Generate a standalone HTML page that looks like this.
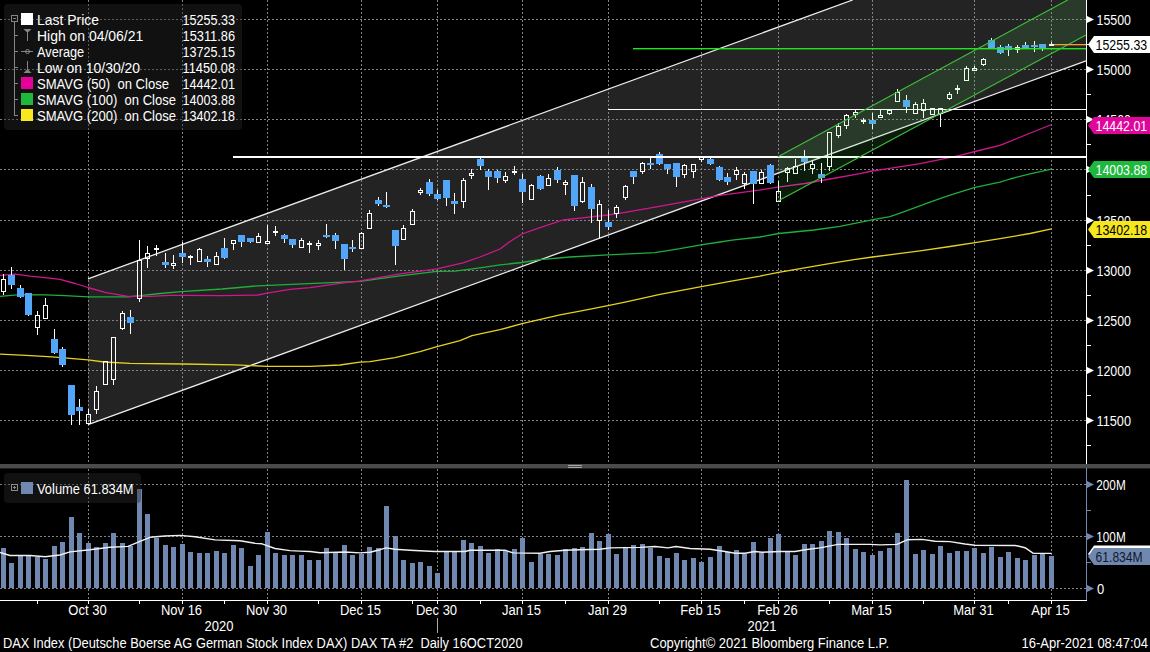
<!DOCTYPE html>
<html><head><meta charset="utf-8"><title>DAX Index</title>
<style>html,body{margin:0;padding:0;background:#000;width:1150px;height:652px;overflow:hidden}svg{display:block}</style>
</head><body>
<svg width="1150" height="652" viewBox="0 0 1150 652">
<rect width="1150" height="652" fill="#000"/>
<polygon points="88,278.8 852.68,0 1086,0 1086,60.85 88,424.72" fill="#232323"/>
<g stroke="#838383" stroke-width="1" stroke-dasharray="2 2" fill="none">
<line x1="0" y1="19.5" x2="1086" y2="19.5"/>
<line x1="0" y1="69.5" x2="1086" y2="69.5"/>
<line x1="0" y1="119.5" x2="1086" y2="119.5"/>
<line x1="0" y1="169.5" x2="1086" y2="169.5"/>
<line x1="0" y1="220.5" x2="1086" y2="220.5"/>
<line x1="0" y1="270.5" x2="1086" y2="270.5"/>
<line x1="0" y1="320.5" x2="1086" y2="320.5"/>
<line x1="0" y1="370.5" x2="1086" y2="370.5"/>
<line x1="0" y1="420.5" x2="1086" y2="420.5"/>
<line x1="88.5" y1="0" x2="88.5" y2="464"/>
<line x1="182.5" y1="0" x2="182.5" y2="464"/>
<line x1="267.5" y1="0" x2="267.5" y2="464"/>
<line x1="361.5" y1="0" x2="361.5" y2="464"/>
<line x1="437.5" y1="0" x2="437.5" y2="464"/>
<line x1="522.5" y1="0" x2="522.5" y2="464"/>
<line x1="608.5" y1="0" x2="608.5" y2="464"/>
<line x1="701.5" y1="0" x2="701.5" y2="464"/>
<line x1="778.5" y1="0" x2="778.5" y2="464"/>
<line x1="872.5" y1="0" x2="872.5" y2="464"/>
<line x1="974.5" y1="0" x2="974.5" y2="464"/>
<line x1="1051.5" y1="0" x2="1051.5" y2="464"/>
<line x1="0" y1="484.5" x2="1086" y2="484.5"/>
<line x1="0" y1="536.5" x2="1086" y2="536.5"/>
<line x1="0" y1="588.5" x2="1086" y2="588.5"/>
<line x1="88.5" y1="469" x2="88.5" y2="600"/>
<line x1="182.5" y1="469" x2="182.5" y2="600"/>
<line x1="267.5" y1="469" x2="267.5" y2="600"/>
<line x1="361.5" y1="469" x2="361.5" y2="600"/>
<line x1="437.5" y1="469" x2="437.5" y2="600"/>
<line x1="522.5" y1="469" x2="522.5" y2="600"/>
<line x1="608.5" y1="469" x2="608.5" y2="600"/>
<line x1="701.5" y1="469" x2="701.5" y2="600"/>
<line x1="778.5" y1="469" x2="778.5" y2="600"/>
<line x1="872.5" y1="469" x2="872.5" y2="600"/>
<line x1="974.5" y1="469" x2="974.5" y2="600"/>
<line x1="1051.5" y1="469" x2="1051.5" y2="600"/>
</g>
<g stroke="#ececec" stroke-width="1.3" fill="none">
<line x1="88" y1="278.8" x2="852.68" y2="0"/>
<line x1="88" y1="424.72" x2="1086" y2="60.85"/>
</g>
<polyline points="0,354.1 26,355.3 52,356.8 70,358.3 88,359.9 104,362 130,363.3 183,364 235,364.8 267,366.4 310,366.4 340,365 360,362.2 370,361.6 395,357.6 420,351.7 437,346.7 460,340.7 472,335.7 500,329.7 522,323.7 560,314.8 580,311.1 608,305.7 625,302.2 660,294.3 680,290.6 700,286.9 730,281.3 760,276.1 778.6,272.3 801.7,268.3 827.8,263.9 853.9,259.6 872.5,257 920,250.9 950,246.5 975,242.7 1000,238.7 1030,233.5 1051.5,228.8" fill="none" stroke="#e6d21e" stroke-width="1.3" stroke-linejoin="round"/>
<polyline points="0,296.3 20,294.6 45,294.9 65,295.7 88,296.8 128,296.8 140,295.6 160,293.5 181,291.6 222,289 258,285.8 303,283.8 360,281.3 400,275.9 437,271.3 455,271.1 480,267.9 500,264.9 522,262.5 540,259.6 570,257 608,254.9 655,252.6 680,248.7 701,244.8 720,242 732,240.1 760,237 778.6,233.5 814,230 840,226.3 872,219.9 890,216.6 905,211.4 930,202.2 950,195.2 975,187.4 1000,182.2 1010,179 1030,173.8 1051.5,169.2" fill="none" stroke="#1fae3c" stroke-width="1.3" stroke-linejoin="round"/>
<polyline points="0,275.3 15,274.2 30,276.1 45,277.6 60,279.3 75,283.5 88,287.5 105,292.3 128,296.3 150,296.3 170,295.3 183,295.3 220,295.7 258,295 267,293.1 290,289.4 310,287.6 340,283.4 360,280.8 400,273.9 437,268.9 463,262.9 480,257 500,249 510,241.5 522,234 540,227.6 563,220 580,218.2 608,215 625,212.4 655,207.2 702,198.6 720,195.3 759,190.1 778,187.1 805,183.5 830,179 860,173.7 872,171 880,169.8 920,163.7 947,158.1 960,155.4 975,151.5 1000,145.4 1051.5,124.5" fill="none" stroke="#d0168f" stroke-width="1.3" stroke-linejoin="round"/>
<g shape-rendering="crispEdges">
<rect x="3" y="274" width="1" height="5" fill="#fff"/>
<rect x="3" y="292" width="1" height="3" fill="#fff"/>
<rect x="1.5" y="279.5" width="4" height="12" fill="none" stroke="#fff" stroke-width="1"/>
<rect x="11" y="267" width="1" height="22" fill="#fff"/>
<rect x="8" y="275" width="7" height="10" fill="#52a6fa"/>
<rect x="20" y="285" width="1" height="13" fill="#fff"/>
<rect x="17" y="288" width="7" height="9" fill="#52a6fa"/>
<rect x="28" y="293" width="1" height="23" fill="#fff"/>
<rect x="25" y="293" width="7" height="22" fill="#52a6fa"/>
<rect x="37" y="311" width="1" height="4" fill="#fff"/>
<rect x="37" y="328" width="1" height="7" fill="#fff"/>
<rect x="35.5" y="315.5" width="4" height="12" fill="none" stroke="#fff" stroke-width="1"/>
<rect x="45" y="298" width="1" height="7" fill="#fff"/>
<rect x="43.5" y="305.5" width="4" height="13" fill="none" stroke="#fff" stroke-width="1"/>
<rect x="54" y="329" width="1" height="25" fill="#fff"/>
<rect x="51" y="339" width="7" height="14" fill="#52a6fa"/>
<rect x="62" y="347" width="1" height="20" fill="#fff"/>
<rect x="59" y="349" width="7" height="16" fill="#52a6fa"/>
<rect x="71" y="385" width="1" height="40" fill="#fff"/>
<rect x="68" y="385" width="7" height="30" fill="#52a6fa"/>
<rect x="79" y="399" width="1" height="26" fill="#fff"/>
<rect x="76" y="407" width="7" height="4" fill="#52a6fa"/>
<rect x="88" y="409" width="1" height="5" fill="#fff"/>
<rect x="86.5" y="414.5" width="4" height="9" fill="none" stroke="#fff" stroke-width="1"/>
<rect x="96" y="386" width="1" height="5" fill="#fff"/>
<rect x="96" y="410" width="1" height="4" fill="#fff"/>
<rect x="94.5" y="391.5" width="4" height="18" fill="none" stroke="#fff" stroke-width="1"/>
<rect x="103.5" y="361.5" width="4" height="23" fill="none" stroke="#fff" stroke-width="1"/>
<rect x="113" y="380" width="1" height="5" fill="#fff"/>
<rect x="111.5" y="337.5" width="4" height="42" fill="none" stroke="#fff" stroke-width="1"/>
<rect x="122" y="311" width="1" height="2" fill="#fff"/>
<rect x="122" y="329" width="1" height="1" fill="#fff"/>
<rect x="120.5" y="313.5" width="4" height="15" fill="none" stroke="#fff" stroke-width="1"/>
<rect x="130" y="310" width="1" height="24" fill="#fff"/>
<rect x="127" y="317" width="7" height="6" fill="#52a6fa"/>
<rect x="139" y="240" width="1" height="20" fill="#fff"/>
<rect x="139" y="299" width="1" height="3" fill="#fff"/>
<rect x="137.5" y="260.5" width="4" height="38" fill="none" stroke="#fff" stroke-width="1"/>
<rect x="147" y="246" width="1" height="7" fill="#fff"/>
<rect x="147" y="259" width="1" height="9" fill="#fff"/>
<rect x="145.5" y="253.5" width="4" height="5" fill="none" stroke="#fff" stroke-width="1"/>
<rect x="156" y="245" width="1" height="3" fill="#fff"/>
<rect x="156" y="250" width="1" height="6" fill="#fff"/>
<rect x="154.5" y="248.5" width="4" height="1" fill="none" stroke="#fff" stroke-width="1"/>
<rect x="165" y="253" width="1" height="15" fill="#fff"/>
<rect x="162" y="262" width="7" height="3" fill="#52a6fa"/>
<rect x="173" y="255" width="1" height="8" fill="#fff"/>
<rect x="173" y="266" width="1" height="3" fill="#fff"/>
<rect x="171.5" y="263.5" width="4" height="2" fill="none" stroke="#fff" stroke-width="1"/>
<rect x="182" y="242" width="1" height="21" fill="#fff"/>
<rect x="179" y="253" width="7" height="4" fill="#52a6fa"/>
<rect x="190" y="255" width="1" height="1" fill="#fff"/>
<rect x="190" y="258" width="1" height="7" fill="#fff"/>
<rect x="188.5" y="256.5" width="4" height="1" fill="none" stroke="#fff" stroke-width="1"/>
<rect x="199" y="248" width="1" height="1" fill="#fff"/>
<rect x="197.5" y="249.5" width="4" height="12" fill="none" stroke="#fff" stroke-width="1"/>
<rect x="207" y="256" width="1" height="11" fill="#fff"/>
<rect x="204" y="259" width="7" height="3" fill="#52a6fa"/>
<rect x="216" y="252" width="1" height="4" fill="#fff"/>
<rect x="214.5" y="256.5" width="4" height="8" fill="none" stroke="#fff" stroke-width="1"/>
<rect x="224" y="238" width="1" height="21" fill="#fff"/>
<rect x="221" y="248" width="7" height="10" fill="#52a6fa"/>
<rect x="233" y="244" width="1" height="6" fill="#fff"/>
<rect x="231.5" y="240.5" width="4" height="3" fill="none" stroke="#fff" stroke-width="1"/>
<rect x="241" y="235" width="1" height="12" fill="#fff"/>
<rect x="238" y="235" width="7" height="7" fill="#52a6fa"/>
<rect x="250" y="238" width="1" height="5" fill="#fff"/>
<rect x="247" y="238" width="7" height="4" fill="#52a6fa"/>
<rect x="258" y="233" width="1" height="3" fill="#fff"/>
<rect x="256.5" y="236.5" width="4" height="6" fill="none" stroke="#fff" stroke-width="1"/>
<rect x="267" y="225" width="1" height="16" fill="#fff"/>
<rect x="265.5" y="241.5" width="4" height="2" fill="none" stroke="#fff" stroke-width="1"/>
<rect x="275" y="226" width="1" height="5" fill="#fff"/>
<rect x="275" y="233" width="1" height="3" fill="#fff"/>
<rect x="273.5" y="231.5" width="4" height="1" fill="none" stroke="#fff" stroke-width="1"/>
<rect x="284" y="234" width="1" height="9" fill="#fff"/>
<rect x="281" y="235" width="7" height="4" fill="#52a6fa"/>
<rect x="292" y="239" width="1" height="9" fill="#fff"/>
<rect x="289" y="239" width="7" height="6" fill="#52a6fa"/>
<rect x="301" y="238" width="1" height="2" fill="#fff"/>
<rect x="299.5" y="240.5" width="4" height="7" fill="none" stroke="#fff" stroke-width="1"/>
<rect x="309" y="241" width="1" height="2" fill="#fff"/>
<rect x="309" y="245" width="1" height="8" fill="#fff"/>
<rect x="307.5" y="243.5" width="4" height="1" fill="none" stroke="#fff" stroke-width="1"/>
<rect x="318" y="240" width="1" height="3" fill="#fff"/>
<rect x="318" y="246" width="1" height="4" fill="#fff"/>
<rect x="316.5" y="243.5" width="4" height="2" fill="none" stroke="#fff" stroke-width="1"/>
<rect x="326" y="224" width="1" height="14" fill="#fff"/>
<rect x="323" y="235" width="7" height="2" fill="#52a6fa"/>
<rect x="335" y="233" width="1" height="16" fill="#fff"/>
<rect x="332" y="235" width="7" height="6" fill="#52a6fa"/>
<rect x="344" y="244" width="1" height="26" fill="#fff"/>
<rect x="341" y="244" width="7" height="15" fill="#52a6fa"/>
<rect x="352" y="240" width="1" height="12" fill="#fff"/>
<rect x="349" y="247" width="7" height="2" fill="#52a6fa"/>
<rect x="361" y="232" width="1" height="1" fill="#fff"/>
<rect x="359.5" y="233.5" width="4" height="15" fill="none" stroke="#fff" stroke-width="1"/>
<rect x="369" y="210" width="1" height="3" fill="#fff"/>
<rect x="367.5" y="213.5" width="4" height="15" fill="none" stroke="#fff" stroke-width="1"/>
<rect x="378" y="197" width="1" height="9" fill="#fff"/>
<rect x="375" y="200" width="7" height="4" fill="#52a6fa"/>
<rect x="386" y="192" width="1" height="16" fill="#fff"/>
<rect x="383" y="205" width="7" height="2" fill="#52a6fa"/>
<rect x="395" y="230" width="1" height="35" fill="#fff"/>
<rect x="392" y="230" width="7" height="16" fill="#52a6fa"/>
<rect x="403" y="225" width="1" height="3" fill="#fff"/>
<rect x="401.5" y="228.5" width="4" height="11" fill="none" stroke="#fff" stroke-width="1"/>
<rect x="412" y="209" width="1" height="2" fill="#fff"/>
<rect x="410.5" y="211.5" width="4" height="13" fill="none" stroke="#fff" stroke-width="1"/>
<rect x="420" y="188" width="1" height="2" fill="#fff"/>
<rect x="420" y="193" width="1" height="2" fill="#fff"/>
<rect x="418.5" y="190.5" width="4" height="2" fill="none" stroke="#fff" stroke-width="1"/>
<rect x="429" y="179" width="1" height="17" fill="#fff"/>
<rect x="426" y="182" width="7" height="12" fill="#52a6fa"/>
<rect x="437" y="190" width="1" height="10" fill="#fff"/>
<rect x="434" y="194" width="7" height="5" fill="#52a6fa"/>
<rect x="446" y="180" width="1" height="26" fill="#fff"/>
<rect x="443" y="180" width="7" height="18" fill="#52a6fa"/>
<rect x="454" y="193" width="1" height="21" fill="#fff"/>
<rect x="451" y="201" width="7" height="3" fill="#52a6fa"/>
<rect x="463" y="178" width="1" height="2" fill="#fff"/>
<rect x="463" y="202" width="1" height="6" fill="#fff"/>
<rect x="461.5" y="180.5" width="4" height="21" fill="none" stroke="#fff" stroke-width="1"/>
<rect x="471" y="169" width="1" height="4" fill="#fff"/>
<rect x="471" y="176" width="1" height="3" fill="#fff"/>
<rect x="469.5" y="173.5" width="4" height="2" fill="none" stroke="#fff" stroke-width="1"/>
<rect x="480" y="158" width="1" height="12" fill="#fff"/>
<rect x="477" y="159" width="7" height="7" fill="#52a6fa"/>
<rect x="488" y="169" width="1" height="21" fill="#fff"/>
<rect x="485" y="171" width="7" height="6" fill="#52a6fa"/>
<rect x="497" y="170" width="1" height="13" fill="#fff"/>
<rect x="494" y="171" width="7" height="7" fill="#52a6fa"/>
<rect x="505" y="172" width="1" height="4" fill="#fff"/>
<rect x="505" y="181" width="1" height="2" fill="#fff"/>
<rect x="503.5" y="176.5" width="4" height="4" fill="none" stroke="#fff" stroke-width="1"/>
<rect x="514" y="166" width="1" height="5" fill="#fff"/>
<rect x="514" y="173" width="1" height="2" fill="#fff"/>
<rect x="512.5" y="171.5" width="4" height="1" fill="none" stroke="#fff" stroke-width="1"/>
<rect x="522" y="174" width="1" height="29" fill="#fff"/>
<rect x="519" y="179" width="7" height="13" fill="#52a6fa"/>
<rect x="531" y="184" width="1" height="1" fill="#fff"/>
<rect x="529.5" y="185.5" width="4" height="14" fill="none" stroke="#fff" stroke-width="1"/>
<rect x="540" y="175" width="1" height="15" fill="#fff"/>
<rect x="537" y="176" width="7" height="13" fill="#52a6fa"/>
<rect x="548" y="174" width="1" height="4" fill="#fff"/>
<rect x="546.5" y="178.5" width="4" height="7" fill="none" stroke="#fff" stroke-width="1"/>
<rect x="557" y="167" width="1" height="16" fill="#fff"/>
<rect x="554" y="170" width="7" height="10" fill="#52a6fa"/>
<rect x="565" y="180" width="1" height="2" fill="#fff"/>
<rect x="565" y="185" width="1" height="10" fill="#fff"/>
<rect x="563.5" y="182.5" width="4" height="2" fill="none" stroke="#fff" stroke-width="1"/>
<rect x="574" y="175" width="1" height="36" fill="#fff"/>
<rect x="571" y="175" width="7" height="31" fill="#52a6fa"/>
<rect x="582" y="177" width="1" height="5" fill="#fff"/>
<rect x="582" y="202" width="1" height="1" fill="#fff"/>
<rect x="580.5" y="182.5" width="4" height="19" fill="none" stroke="#fff" stroke-width="1"/>
<rect x="591" y="184" width="1" height="39" fill="#fff"/>
<rect x="588" y="187" width="7" height="22" fill="#52a6fa"/>
<rect x="599" y="200" width="1" height="4" fill="#fff"/>
<rect x="599" y="221" width="1" height="17" fill="#fff"/>
<rect x="597.5" y="204.5" width="4" height="16" fill="none" stroke="#fff" stroke-width="1"/>
<rect x="608" y="210" width="1" height="20" fill="#fff"/>
<rect x="605" y="222" width="7" height="5" fill="#52a6fa"/>
<rect x="616" y="205" width="1" height="2" fill="#fff"/>
<rect x="616" y="214" width="1" height="4" fill="#fff"/>
<rect x="614.5" y="207.5" width="4" height="6" fill="none" stroke="#fff" stroke-width="1"/>
<rect x="625" y="185" width="1" height="1" fill="#fff"/>
<rect x="625" y="198" width="1" height="2" fill="#fff"/>
<rect x="623.5" y="186.5" width="4" height="11" fill="none" stroke="#fff" stroke-width="1"/>
<rect x="633" y="171" width="1" height="13" fill="#fff"/>
<rect x="630" y="171" width="7" height="6" fill="#52a6fa"/>
<rect x="642" y="162" width="1" height="1" fill="#fff"/>
<rect x="642" y="172" width="1" height="2" fill="#fff"/>
<rect x="640.5" y="163.5" width="4" height="8" fill="none" stroke="#fff" stroke-width="1"/>
<rect x="650" y="158" width="1" height="11" fill="#fff"/>
<rect x="647" y="163" width="7" height="2" fill="#52a6fa"/>
<rect x="659" y="152" width="1" height="13" fill="#fff"/>
<rect x="656" y="154" width="7" height="10" fill="#52a6fa"/>
<rect x="667" y="164" width="1" height="10" fill="#fff"/>
<rect x="664" y="164" width="7" height="5" fill="#52a6fa"/>
<rect x="676" y="163" width="1" height="24" fill="#fff"/>
<rect x="673" y="163" width="7" height="14" fill="#52a6fa"/>
<rect x="684" y="164" width="1" height="1" fill="#fff"/>
<rect x="684" y="175" width="1" height="3" fill="#fff"/>
<rect x="682.5" y="165.5" width="4" height="9" fill="none" stroke="#fff" stroke-width="1"/>
<rect x="693" y="172" width="1" height="6" fill="#fff"/>
<rect x="691.5" y="164.5" width="4" height="7" fill="none" stroke="#fff" stroke-width="1"/>
<rect x="701" y="160" width="1" height="2" fill="#fff"/>
<rect x="699.5" y="156.5" width="4" height="3" fill="none" stroke="#fff" stroke-width="1"/>
<rect x="710" y="158" width="1" height="7" fill="#fff"/>
<rect x="707" y="159" width="7" height="5" fill="#52a6fa"/>
<rect x="719" y="166" width="1" height="15" fill="#fff"/>
<rect x="716" y="167" width="7" height="13" fill="#52a6fa"/>
<rect x="727" y="173" width="1" height="12" fill="#fff"/>
<rect x="724" y="177" width="7" height="5" fill="#52a6fa"/>
<rect x="736" y="167" width="1" height="3" fill="#fff"/>
<rect x="736" y="175" width="1" height="5" fill="#fff"/>
<rect x="734.5" y="170.5" width="4" height="4" fill="none" stroke="#fff" stroke-width="1"/>
<rect x="744" y="172" width="1" height="2" fill="#fff"/>
<rect x="744" y="184" width="1" height="5" fill="#fff"/>
<rect x="742.5" y="174.5" width="4" height="9" fill="none" stroke="#fff" stroke-width="1"/>
<rect x="753" y="171" width="1" height="33" fill="#fff"/>
<rect x="750" y="171" width="7" height="13" fill="#52a6fa"/>
<rect x="761" y="170" width="1" height="2" fill="#fff"/>
<rect x="759.5" y="172.5" width="4" height="11" fill="none" stroke="#fff" stroke-width="1"/>
<rect x="770" y="164" width="1" height="20" fill="#fff"/>
<rect x="767" y="165" width="7" height="18" fill="#52a6fa"/>
<rect x="778" y="181" width="1" height="10" fill="#fff"/>
<rect x="776.5" y="191.5" width="4" height="10" fill="none" stroke="#fff" stroke-width="1"/>
<rect x="787" y="167" width="1" height="1" fill="#fff"/>
<rect x="787" y="173" width="1" height="9" fill="#fff"/>
<rect x="785.5" y="168.5" width="4" height="4" fill="none" stroke="#fff" stroke-width="1"/>
<rect x="795" y="159" width="1" height="7" fill="#fff"/>
<rect x="793.5" y="166.5" width="4" height="7" fill="none" stroke="#fff" stroke-width="1"/>
<rect x="804" y="150" width="1" height="21" fill="#fff"/>
<rect x="801" y="158" width="7" height="4" fill="#52a6fa"/>
<rect x="812" y="161" width="1" height="3" fill="#fff"/>
<rect x="812" y="169" width="1" height="5" fill="#fff"/>
<rect x="810.5" y="164.5" width="4" height="4" fill="none" stroke="#fff" stroke-width="1"/>
<rect x="821" y="163" width="1" height="20" fill="#fff"/>
<rect x="818" y="174" width="7" height="4" fill="#52a6fa"/>
<rect x="829" y="167" width="1" height="4" fill="#fff"/>
<rect x="827.5" y="132.5" width="4" height="34" fill="none" stroke="#fff" stroke-width="1"/>
<rect x="838" y="123" width="1" height="3" fill="#fff"/>
<rect x="838" y="136" width="1" height="2" fill="#fff"/>
<rect x="836.5" y="126.5" width="4" height="9" fill="none" stroke="#fff" stroke-width="1"/>
<rect x="846" y="114" width="1" height="1" fill="#fff"/>
<rect x="846" y="126" width="1" height="3" fill="#fff"/>
<rect x="844.5" y="115.5" width="4" height="10" fill="none" stroke="#fff" stroke-width="1"/>
<rect x="855" y="110" width="1" height="2" fill="#fff"/>
<rect x="855" y="115" width="1" height="3" fill="#fff"/>
<rect x="853.5" y="112.5" width="4" height="2" fill="none" stroke="#fff" stroke-width="1"/>
<rect x="863" y="118" width="1" height="2" fill="#fff"/>
<rect x="863" y="120" width="1" height="4" fill="#fff"/>
<rect x="861.5" y="120.5" width="4" height="1" fill="none" stroke="#fff" stroke-width="1"/>
<rect x="872" y="113" width="1" height="16" fill="#fff"/>
<rect x="869" y="120" width="7" height="4" fill="#52a6fa"/>
<rect x="880" y="110" width="1" height="5" fill="#fff"/>
<rect x="878.5" y="115.5" width="4" height="2" fill="none" stroke="#fff" stroke-width="1"/>
<rect x="889" y="114" width="1" height="1" fill="#fff"/>
<rect x="887.5" y="110.5" width="4" height="3" fill="none" stroke="#fff" stroke-width="1"/>
<rect x="897" y="89" width="1" height="3" fill="#fff"/>
<rect x="895.5" y="92.5" width="4" height="9" fill="none" stroke="#fff" stroke-width="1"/>
<rect x="906" y="95" width="1" height="18" fill="#fff"/>
<rect x="903" y="100" width="7" height="7" fill="#52a6fa"/>
<rect x="915" y="102" width="1" height="2" fill="#fff"/>
<rect x="913.5" y="104.5" width="4" height="9" fill="none" stroke="#fff" stroke-width="1"/>
<rect x="923" y="99" width="1" height="4" fill="#fff"/>
<rect x="923" y="111" width="1" height="7" fill="#fff"/>
<rect x="921.5" y="103.5" width="4" height="7" fill="none" stroke="#fff" stroke-width="1"/>
<rect x="930.5" y="108.5" width="4" height="6" fill="none" stroke="#fff" stroke-width="1"/>
<rect x="940" y="114" width="1" height="13" fill="#fff"/>
<rect x="938.5" y="108.5" width="4" height="5" fill="none" stroke="#fff" stroke-width="1"/>
<rect x="949" y="92" width="1" height="2" fill="#fff"/>
<rect x="949" y="99" width="1" height="1" fill="#fff"/>
<rect x="947.5" y="94.5" width="4" height="4" fill="none" stroke="#fff" stroke-width="1"/>
<rect x="957" y="85" width="1" height="3" fill="#fff"/>
<rect x="957" y="89" width="1" height="5" fill="#fff"/>
<rect x="955.5" y="88.5" width="4" height="1" fill="none" stroke="#fff" stroke-width="1"/>
<rect x="966" y="66" width="1" height="2" fill="#fff"/>
<rect x="964.5" y="68.5" width="4" height="12" fill="none" stroke="#fff" stroke-width="1"/>
<rect x="974" y="66" width="1" height="2" fill="#fff"/>
<rect x="972.5" y="68.5" width="4" height="2" fill="none" stroke="#fff" stroke-width="1"/>
<rect x="983" y="58" width="1" height="1" fill="#fff"/>
<rect x="983" y="65" width="1" height="1" fill="#fff"/>
<rect x="981.5" y="59.5" width="4" height="5" fill="none" stroke="#fff" stroke-width="1"/>
<rect x="991" y="38" width="1" height="11" fill="#fff"/>
<rect x="988" y="40" width="7" height="8" fill="#52a6fa"/>
<rect x="1000" y="45" width="1" height="9" fill="#fff"/>
<rect x="997" y="47" width="7" height="6" fill="#52a6fa"/>
<rect x="1008" y="44" width="1" height="12" fill="#fff"/>
<rect x="1005" y="46" width="7" height="4" fill="#52a6fa"/>
<rect x="1017" y="45" width="1" height="2" fill="#fff"/>
<rect x="1017" y="50" width="1" height="3" fill="#fff"/>
<rect x="1015.5" y="47.5" width="4" height="2" fill="none" stroke="#fff" stroke-width="1"/>
<rect x="1025" y="42" width="1" height="7" fill="#fff"/>
<rect x="1022" y="45" width="7" height="3" fill="#52a6fa"/>
<rect x="1034" y="41" width="1" height="11" fill="#fff"/>
<rect x="1031" y="45" width="7" height="2" fill="#52a6fa"/>
<rect x="1042" y="44" width="1" height="7" fill="#fff"/>
<rect x="1039" y="44" width="7" height="4" fill="#52a6fa"/>
<rect x="1051" y="42" width="1" height="2" fill="#fff"/>
<rect x="1049.5" y="44.5" width="4" height="1" fill="none" stroke="#fff" stroke-width="1"/>
</g>
<rect x="233" y="156" width="853" height="2" fill="#fff"/>
<rect x="608" y="109" width="478" height="1" fill="#fff"/>
<rect x="633" y="48" width="453" height="1.4" fill="#1ee61e"/>
<polygon points="778,156.7 1067.65,0 1086,0 1086,34.9 778,201" fill="rgba(96,228,96,0.12)"/>
<g stroke="#3cc03c" stroke-width="1.1" fill="none">
<line x1="778" y1="156.7" x2="1067.65" y2="0"/>
<line x1="778" y1="201" x2="1086" y2="34.9"/>
</g>
<rect x="1054" y="44" width="32" height="1.3" fill="#f0a030"/>
<g fill="#7088b0" shape-rendering="crispEdges">
<rect x="1" y="548" width="5" height="40"/>
<rect x="9" y="563" width="5" height="25"/>
<rect x="18" y="556" width="5" height="32"/>
<rect x="26" y="556" width="5" height="32"/>
<rect x="35" y="557" width="5" height="31"/>
<rect x="43" y="559" width="5" height="29"/>
<rect x="52" y="546" width="5" height="42"/>
<rect x="60" y="542" width="5" height="46"/>
<rect x="69" y="517" width="5" height="71"/>
<rect x="77" y="533" width="5" height="55"/>
<rect x="86" y="543" width="5" height="45"/>
<rect x="94" y="547" width="5" height="41"/>
<rect x="103" y="543" width="5" height="45"/>
<rect x="111" y="533" width="5" height="55"/>
<rect x="120" y="543" width="5" height="45"/>
<rect x="128" y="546" width="5" height="42"/>
<rect x="137" y="489" width="5" height="99"/>
<rect x="145" y="514" width="5" height="74"/>
<rect x="154" y="538" width="5" height="50"/>
<rect x="163" y="545" width="5" height="43"/>
<rect x="171" y="547" width="5" height="41"/>
<rect x="180" y="544" width="5" height="44"/>
<rect x="188" y="552" width="5" height="36"/>
<rect x="197" y="553" width="5" height="35"/>
<rect x="205" y="553" width="5" height="35"/>
<rect x="214" y="551" width="5" height="37"/>
<rect x="222" y="553" width="5" height="35"/>
<rect x="231" y="545" width="5" height="43"/>
<rect x="239" y="548" width="5" height="40"/>
<rect x="248" y="566" width="5" height="22"/>
<rect x="256" y="555" width="5" height="33"/>
<rect x="265" y="532" width="5" height="56"/>
<rect x="273" y="553" width="5" height="35"/>
<rect x="282" y="555" width="5" height="33"/>
<rect x="290" y="555" width="5" height="33"/>
<rect x="299" y="555" width="5" height="33"/>
<rect x="307" y="560" width="5" height="28"/>
<rect x="316" y="560" width="5" height="28"/>
<rect x="324" y="548" width="5" height="40"/>
<rect x="333" y="552" width="5" height="36"/>
<rect x="342" y="545" width="5" height="43"/>
<rect x="350" y="555" width="5" height="33"/>
<rect x="359" y="554" width="5" height="34"/>
<rect x="367" y="547" width="5" height="41"/>
<rect x="376" y="548" width="5" height="40"/>
<rect x="384" y="506" width="5" height="82"/>
<rect x="393" y="536" width="5" height="52"/>
<rect x="401" y="560" width="5" height="28"/>
<rect x="410" y="563" width="5" height="25"/>
<rect x="418" y="562" width="5" height="26"/>
<rect x="427" y="566" width="5" height="22"/>
<rect x="435" y="573" width="5" height="15"/>
<rect x="444" y="552" width="5" height="36"/>
<rect x="452" y="552" width="5" height="36"/>
<rect x="461" y="540" width="5" height="48"/>
<rect x="469" y="543" width="5" height="45"/>
<rect x="478" y="546" width="5" height="42"/>
<rect x="486" y="553" width="5" height="35"/>
<rect x="495" y="549" width="5" height="39"/>
<rect x="503" y="551" width="5" height="37"/>
<rect x="512" y="549" width="5" height="39"/>
<rect x="520" y="538" width="5" height="50"/>
<rect x="529" y="562" width="5" height="26"/>
<rect x="538" y="554" width="5" height="34"/>
<rect x="546" y="554" width="5" height="34"/>
<rect x="555" y="555" width="5" height="33"/>
<rect x="563" y="549" width="5" height="39"/>
<rect x="572" y="548" width="5" height="40"/>
<rect x="580" y="547" width="5" height="41"/>
<rect x="589" y="533" width="5" height="55"/>
<rect x="597" y="541" width="5" height="47"/>
<rect x="606" y="534" width="5" height="54"/>
<rect x="614" y="554" width="5" height="34"/>
<rect x="623" y="547" width="5" height="41"/>
<rect x="631" y="545" width="5" height="43"/>
<rect x="640" y="544" width="5" height="44"/>
<rect x="648" y="548" width="5" height="40"/>
<rect x="657" y="556" width="5" height="32"/>
<rect x="665" y="558" width="5" height="30"/>
<rect x="674" y="553" width="5" height="35"/>
<rect x="682" y="560" width="5" height="28"/>
<rect x="691" y="558" width="5" height="30"/>
<rect x="699" y="562" width="5" height="26"/>
<rect x="708" y="557" width="5" height="31"/>
<rect x="717" y="546" width="5" height="42"/>
<rect x="725" y="552" width="5" height="36"/>
<rect x="734" y="550" width="5" height="38"/>
<rect x="742" y="554" width="5" height="34"/>
<rect x="751" y="542" width="5" height="46"/>
<rect x="759" y="553" width="5" height="35"/>
<rect x="768" y="538" width="5" height="50"/>
<rect x="776" y="534" width="5" height="54"/>
<rect x="785" y="552" width="5" height="36"/>
<rect x="793" y="555" width="5" height="33"/>
<rect x="802" y="544" width="5" height="44"/>
<rect x="810" y="544" width="5" height="44"/>
<rect x="819" y="541" width="5" height="47"/>
<rect x="827" y="531" width="5" height="57"/>
<rect x="836" y="532" width="5" height="56"/>
<rect x="844" y="538" width="5" height="50"/>
<rect x="853" y="549" width="5" height="39"/>
<rect x="861" y="552" width="5" height="36"/>
<rect x="870" y="555" width="5" height="33"/>
<rect x="878" y="551" width="5" height="37"/>
<rect x="887" y="548" width="5" height="40"/>
<rect x="895" y="533" width="5" height="55"/>
<rect x="904" y="480" width="5" height="108"/>
<rect x="913" y="554" width="5" height="34"/>
<rect x="921" y="550" width="5" height="38"/>
<rect x="930" y="554" width="5" height="34"/>
<rect x="938" y="546" width="5" height="42"/>
<rect x="947" y="553" width="5" height="35"/>
<rect x="955" y="551" width="5" height="37"/>
<rect x="964" y="551" width="5" height="37"/>
<rect x="972" y="548" width="5" height="40"/>
<rect x="981" y="553" width="5" height="35"/>
<rect x="989" y="547" width="5" height="41"/>
<rect x="998" y="557" width="5" height="31"/>
<rect x="1006" y="552" width="5" height="36"/>
<rect x="1015" y="558" width="5" height="30"/>
<rect x="1023" y="560" width="5" height="28"/>
<rect x="1032" y="555" width="5" height="33"/>
<rect x="1040" y="554" width="5" height="34"/>
<rect x="1049" y="556" width="5" height="32"/>
</g>
<polyline points="0,552.4 10,555.5 30,555.5 45,556.8 60,555 70,551.9 90,549.8 110,547.2 128,546.4 140,541.4 150,537.3 165,536 180,535.4 195,536.7 215,539.9 240,540.7 255,543.3 262,543.8 275,548.5 290,550.6 300,551.1 310,551.5 320,552.7 345,552 360,552.9 370,552.3 380,549.7 386,547.9 395,549.3 410,550.2 435,551.5 450,551.5 465,551.5 470,550.2 505,550.2 513,552.9 540,553.2 550,551.5 565,550.2 580,549.7 600,549.3 610,547.9 640,547.4 655,546.5 668,547.9 676,546.5 690,548.5 710,549.3 725,551.5 735,553.2 745,553.2 755,551.5 762,552.3 780,551.5 795,551.5 805,549.7 820,547.9 838,544.4 870,544.4 880,544.9 897,544.4 907,539.8 922,539.4 935,541.3 950,541.6 965,544 975,545.3 1015,545.5 1018,546 1025,547.7 1033,553.2 1051.5,553.4" fill="none" stroke="#f0f0f0" stroke-width="1.4" stroke-linejoin="round"/>
<rect x="0" y="464" width="1150" height="4.4" fill="#4b4b4b"/>
<rect x="568" y="465" width="14" height="1" fill="#a5a5a5"/>
<rect x="568" y="467" width="14" height="1" fill="#a5a5a5"/>
<rect x="1086" y="0" width="1" height="464" fill="#fff"/>
<rect x="1086" y="468" width="1" height="133" fill="#7088b0"/>
<rect x="0" y="600" width="1087" height="1" fill="#fff"/>
<g fill="#fff" shape-rendering="crispEdges">
<rect x="37" y="601" width="1" height="3"/>
<rect x="139" y="601" width="1" height="3"/>
<rect x="224" y="601" width="1" height="3"/>
<rect x="318" y="601" width="1" height="3"/>
<rect x="412" y="601" width="1" height="3"/>
<rect x="480" y="601" width="1" height="3"/>
<rect x="565" y="601" width="1" height="3"/>
<rect x="659" y="601" width="1" height="3"/>
<rect x="744" y="601" width="1" height="3"/>
<rect x="829" y="601" width="1" height="3"/>
<rect x="923" y="601" width="1" height="3"/>
<rect x="1008" y="601" width="1" height="3"/>
<rect x="88" y="601" width="1" height="3"/>
<rect x="182" y="601" width="1" height="3"/>
<rect x="267" y="601" width="1" height="3"/>
<rect x="361" y="601" width="1" height="3"/>
<rect x="437" y="601" width="1" height="3"/>
<rect x="522" y="601" width="1" height="3"/>
<rect x="608" y="601" width="1" height="3"/>
<rect x="701" y="601" width="1" height="3"/>
<rect x="778" y="601" width="1" height="3"/>
<rect x="872" y="601" width="1" height="3"/>
<rect x="974" y="601" width="1" height="3"/>
<rect x="1051" y="601" width="1" height="3"/>
</g>
<g fill="#fff" shape-rendering="crispEdges">
<rect x="1087" y="44" width="4" height="1"/>
<rect x="1087" y="94" width="4" height="1"/>
<rect x="1087" y="144" width="4" height="1"/>
<rect x="1087" y="195" width="4" height="1"/>
<rect x="1087" y="245" width="4" height="1"/>
<rect x="1087" y="295" width="4" height="1"/>
<rect x="1087" y="345" width="4" height="1"/>
<rect x="1087" y="395" width="4" height="1"/>
<rect x="1087" y="445" width="4" height="1"/>
</g>
<rect x="1087" y="510" width="4" height="1" fill="#7088b0"/>
<rect x="1087" y="562" width="4" height="1" fill="#7088b0"/>
<polygon points="1087,16 1094,19.5 1087,23" fill="#fff"/>
<polygon points="1087,66 1094,69.5 1087,73" fill="#fff"/>
<polygon points="1087,116 1094,119.5 1087,123" fill="#fff"/>
<polygon points="1087,166 1094,169.5 1087,173" fill="#fff"/>
<polygon points="1087,217 1094,220.5 1087,224" fill="#fff"/>
<polygon points="1087,267 1094,270.5 1087,274" fill="#fff"/>
<polygon points="1087,317 1094,320.5 1087,324" fill="#fff"/>
<polygon points="1087,367 1094,370.5 1087,374" fill="#fff"/>
<polygon points="1087,417 1094,420.5 1087,424" fill="#fff"/>
<polygon points="1087,481 1094,484.5 1087,488" fill="#7088b0"/>
<polygon points="1087,533 1094,536.5 1087,540" fill="#7088b0"/>
<polygon points="1087,585 1094,588.5 1087,592" fill="#7088b0"/>
<g font-family="&quot;Liberation Sans&quot;, sans-serif" font-size="14" fill="#fff">
<text x="1096.5" y="24.5" textLength="34.5" lengthAdjust="spacingAndGlyphs">15500</text>
<text x="1096.5" y="74.5" textLength="34.5" lengthAdjust="spacingAndGlyphs">15000</text>
<text x="1096.5" y="124.5" textLength="34.5" lengthAdjust="spacingAndGlyphs">14500</text>
<text x="1096.5" y="174.5" textLength="34.5" lengthAdjust="spacingAndGlyphs">14000</text>
<text x="1096.5" y="225.5" textLength="34.5" lengthAdjust="spacingAndGlyphs">13500</text>
<text x="1096.5" y="275.5" textLength="34.5" lengthAdjust="spacingAndGlyphs">13000</text>
<text x="1096.5" y="325.5" textLength="34.5" lengthAdjust="spacingAndGlyphs">12500</text>
<text x="1096.5" y="375.5" textLength="34.5" lengthAdjust="spacingAndGlyphs">12000</text>
<text x="1096.5" y="425.5" textLength="34.5" lengthAdjust="spacingAndGlyphs">11500</text>
<text x="1096.3" y="489.5" textLength="29.4" lengthAdjust="spacingAndGlyphs">200M</text>
<text x="1096.3" y="541.5" textLength="29.4" lengthAdjust="spacingAndGlyphs">100M</text>
<text x="1097" y="593.5" textLength="7.2" lengthAdjust="spacingAndGlyphs">0</text>
</g>
<polygon points="1088,44.5 1094,36 1150,36 1150,53 1094,53" fill="#fff"/><text x="1095.6" y="49.7" font-family="&quot;Liberation Sans&quot;, sans-serif" font-size="14" fill="#000" textLength="51.6" lengthAdjust="spacingAndGlyphs">15255.33</text>
<polygon points="1088,125.5 1094,117 1150,117 1150,134 1094,134" fill="#e0059b"/><text x="1095.6" y="130.7" font-family="&quot;Liberation Sans&quot;, sans-serif" font-size="14" fill="#fff" textLength="51.6" lengthAdjust="spacingAndGlyphs">14442.01</text>
<polygon points="1088,169.5 1094,161 1150,161 1150,178 1094,178" fill="#1db83c"/><text x="1095.6" y="174.7" font-family="&quot;Liberation Sans&quot;, sans-serif" font-size="14" fill="#fff" textLength="51.6" lengthAdjust="spacingAndGlyphs">14003.88</text>
<polygon points="1088,229.5 1094,221 1150,221 1150,238 1094,238" fill="#f5e61e"/><text x="1095.6" y="234.7" font-family="&quot;Liberation Sans&quot;, sans-serif" font-size="14" fill="#000" textLength="51.6" lengthAdjust="spacingAndGlyphs">13402.18</text>
<polygon points="1088,554 1094,545.5 1150,545.5 1150,562 1094,562" fill="#fff"/>
<polygon points="1088,556.5 1094,548 1150,548 1150,565 1094,565" fill="#7088b0"/><text x="1095.6" y="561.7" font-family="&quot;Liberation Sans&quot;, sans-serif" font-size="14" fill="#10182a" textLength="47" lengthAdjust="spacingAndGlyphs">61.834M</text>
<g font-family="&quot;Liberation Sans&quot;, sans-serif" font-size="14" fill="#fff" text-anchor="middle">
<text x="87.5" y="615" textLength="38.3" lengthAdjust="spacingAndGlyphs">Oct 30</text>
<text x="181.5" y="615" textLength="41.2" lengthAdjust="spacingAndGlyphs">Nov 16</text>
<text x="266.5" y="615" textLength="41.2" lengthAdjust="spacingAndGlyphs">Nov 30</text>
<text x="360.5" y="615" textLength="41.2" lengthAdjust="spacingAndGlyphs">Dec 15</text>
<text x="436.5" y="615" textLength="41.2" lengthAdjust="spacingAndGlyphs">Dec 30</text>
<text x="521.5" y="615" textLength="39.0" lengthAdjust="spacingAndGlyphs">Jan 15</text>
<text x="607.5" y="615" textLength="39.0" lengthAdjust="spacingAndGlyphs">Jan 29</text>
<text x="700.5" y="615" textLength="40.5" lengthAdjust="spacingAndGlyphs">Feb 15</text>
<text x="777.5" y="615" textLength="40.5" lengthAdjust="spacingAndGlyphs">Feb 26</text>
<text x="871.5" y="615" textLength="40.5" lengthAdjust="spacingAndGlyphs">Mar 15</text>
<text x="973.5" y="615" textLength="40.5" lengthAdjust="spacingAndGlyphs">Mar 31</text>
<text x="1050.5" y="615" textLength="38.3" lengthAdjust="spacingAndGlyphs">Apr 15</text>
<text x="219" y="631" textLength="28.9" lengthAdjust="spacingAndGlyphs">2020</text>
<text x="762" y="631" textLength="28.9" lengthAdjust="spacingAndGlyphs">2021</text>
</g>
<rect x="437" y="618" width="1" height="15" fill="#aaa"/>
<g font-family="&quot;Liberation Sans&quot;, sans-serif" font-size="14" fill="#fff">
<text x="3" y="648" textLength="519.6" lengthAdjust="spacingAndGlyphs">DAX Index (Deutsche Boerse AG German Stock Index DAX) DAX TA #2  Daily 16OCT2020</text>
<text x="650" y="648" textLength="239.2" lengthAdjust="spacingAndGlyphs">Copyright© 2021 Bloomberg Finance L.P.</text>
<text x="1148" y="648" text-anchor="end" textLength="126.5" lengthAdjust="spacingAndGlyphs">16-Apr-2021 08:47:04</text>
</g>
<rect x="4" y="4" width="238" height="126" rx="4" fill="rgba(40,40,40,0.42)"/>
<g font-family="&quot;Liberation Sans&quot;, sans-serif" font-size="14" fill="#fff">
<text x="37" y="25" xml:space="preserve" textLength="62" lengthAdjust="spacingAndGlyphs">Last Price</text>
<text x="182.6" y="25" textLength="52.4" lengthAdjust="spacingAndGlyphs">15255.33</text>
<text x="37" y="41" xml:space="preserve" textLength="106.2" lengthAdjust="spacingAndGlyphs">High on 04/06/21</text>
<text x="182.6" y="41" textLength="52.4" lengthAdjust="spacingAndGlyphs">15311.86</text>
<text x="37" y="57" xml:space="preserve" textLength="47.2" lengthAdjust="spacingAndGlyphs">Average</text>
<text x="182.6" y="57" textLength="52.4" lengthAdjust="spacingAndGlyphs">13725.15</text>
<text x="37" y="73" xml:space="preserve" textLength="103" lengthAdjust="spacingAndGlyphs">Low on 10/30/20</text>
<text x="182.6" y="73" textLength="52.4" lengthAdjust="spacingAndGlyphs">11450.08</text>
<text x="37" y="89" xml:space="preserve" textLength="132" lengthAdjust="spacingAndGlyphs">SMAVG (50)  on Close</text>
<text x="182.6" y="89" textLength="52.4" lengthAdjust="spacingAndGlyphs">14442.01</text>
<text x="37" y="105" xml:space="preserve" textLength="139" lengthAdjust="spacingAndGlyphs">SMAVG (100)  on Close</text>
<text x="182.6" y="105" textLength="52.4" lengthAdjust="spacingAndGlyphs">14003.88</text>
<text x="37" y="121" xml:space="preserve" textLength="139" lengthAdjust="spacingAndGlyphs">SMAVG (200)  on Close</text>
<text x="182.6" y="121" textLength="52.4" lengthAdjust="spacingAndGlyphs">13402.18</text>
</g>
<rect x="21" y="13" width="12" height="12" fill="#fff"/>
<rect x="21" y="77" width="12" height="12" fill="#e6009a"/>
<rect x="21" y="93" width="12" height="12" fill="#1db83c"/>
<rect x="21" y="109" width="12" height="12" fill="#f8e81e"/>
<g stroke="#858585" stroke-width="1" fill="none" shape-rendering="crispEdges">
<rect x="11.5" y="15.5" width="6" height="6" fill="#111"/>
<line x1="13" y1="18.5" x2="16" y2="18.5"/>
<line x1="14.5" y1="22" x2="14.5" y2="116"/>
<line x1="14.5" y1="35.5" x2="18" y2="35.5"/>
<line x1="14.5" y1="51.5" x2="18" y2="51.5"/>
<line x1="14.5" y1="67.5" x2="18" y2="67.5"/>
<line x1="14.5" y1="83.5" x2="18" y2="83.5"/>
<line x1="14.5" y1="99.5" x2="18" y2="99.5"/>
<line x1="14.5" y1="115.5" x2="18" y2="115.5"/>
</g>
<g stroke="#858585" stroke-width="1" fill="none">
<line x1="27.5" y1="31" x2="27.5" y2="41"/>
<line x1="21" y1="51.5" x2="33" y2="51.5"/>
<circle cx="27.5" cy="51.5" r="2"/>
<line x1="27.5" y1="61" x2="27.5" y2="71"/>
</g>
<polygon points="23.5,29 31.5,29 28.5,32 26.5,32" fill="#858585"/>
<polygon points="26.5,70 28.5,70 31.5,73 23.5,73" fill="#858585"/>
<rect x="4" y="473" width="137" height="30" rx="4" fill="rgba(40,40,40,0.42)"/>
<g stroke="#8a8a8a" stroke-width="1" fill="none" shape-rendering="crispEdges">
<rect x="11.5" y="484.5" width="6" height="6"/>
<line x1="13" y1="487.5" x2="16" y2="487.5"/>
<line x1="14.5" y1="486" x2="14.5" y2="489"/>
</g>
<rect x="21" y="482" width="12" height="12" fill="#7088b0"/>
<text x="37" y="494" font-family="&quot;Liberation Sans&quot;, sans-serif" font-size="14" fill="#fff" textLength="96.6" lengthAdjust="spacingAndGlyphs">Volume 61.834M</text>
</svg>
</body></html>
